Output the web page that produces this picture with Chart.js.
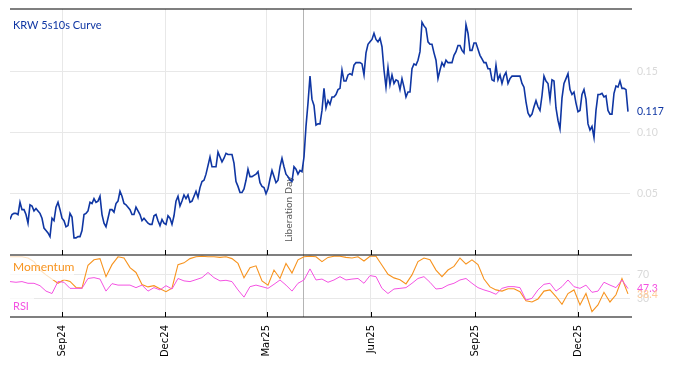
<!DOCTYPE html>
<html>
<head>
<meta charset="utf-8">
<script src="https://cdn.jsdelivr.net/npm/chart.js@4.4.1/dist/chart.umd.min.js"></script>
<style>
  html, body { margin: 0; padding: 0; background: #fff; }
  #wrap { width: 674px; height: 366px; }
</style>
</head>
<body>
<div id="wrap"><canvas id="myChart" width="674" height="366"></canvas></div>
<script>
// sampling grid: days after 17 Jul 2024
const startDate = Date.UTC(2024, 6, 17);
const curveStepDays = 1.7677;
const oscStepDays = 5.303;

// KRW 5s10s curve (%)
const curve = [
  0.029,0.033,0.034,0.034,0.033,0.043,0.037,0.037,0.033,0.026,
  0.041,0.040,0.036,0.038,0.036,0.034,0.030,0.022,0.020,0.018,
  0.015,0.030,0.028,0.039,0.043,0.037,0.030,0.028,0.023,0.024,
  0.034,0.031,0.014,0.014,0.015,0.015,0.020,0.033,0.034,0.036,
  0.043,0.042,0.046,0.043,0.044,0.048,0.033,0.026,0.023,0.030,
  0.037,0.037,0.035,0.042,0.044,0.052,0.048,0.042,0.041,0.039,
  0.037,0.033,0.033,0.039,0.036,0.033,0.028,0.030,0.028,0.026,
  0.025,0.025,0.032,0.033,0.028,0.024,0.029,0.026,0.025,0.032,
  0.030,0.025,0.032,0.044,0.048,0.040,0.044,0.049,0.046,0.049,
  0.043,0.044,0.048,0.052,0.047,0.055,0.060,0.061,0.066,0.073,
  0.080,0.072,0.072,0.072,
  0.084,0.080,0.076,0.079,0.083,0.082,0.082,0.082,0.075,0.060,
  0.056,0.051,0.051,0.054,0.061,0.070,0.064,0.064,0.065,0.066,
  0.068,0.059,0.056,0.055,0.050,0.054,0.062,0.069,0.064,0.059,
  0.061,0.072,0.079,0.072,0.066,0.064,0.061,0.060,0.072,0.070,
  0.066,0.069,0.068,0.080,0.105,0.124,0.146,0.127,0.122,0.106,
  0.107,0.107,0.118,0.136,0.120,0.126,0.123,0.129,0.129,0.131,
  0.135,0.136,0.151,0.142,0.142,0.147,0.148,0.147,0.155,0.157,
  0.157,0.157,0.156,0.147,0.165,0.172,0.174,0.176,0.181,0.176,
  0.174,0.177,0.170,0.151,0.137,0.153,0.139,0.147,0.140,0.143,
  0.142,0.135,0.144,0.137,0.129,0.133,0.133,0.152,0.156,0.155,
  0.159,
  0.166,0.190,0.187,0.185,0.174,0.172,0.172,0.165,0.159,0.144,
  0.151,0.157,0.154,0.159,0.157,0.157,0.157,0.163,0.166,0.171,
  0.171,0.167,0.165,0.188,0.181,0.167,0.167,0.173,0.173,0.168,
  0.163,0.160,0.157,0.157,0.152,0.152,0.143,0.142,0.155,0.143,
  0.147,0.140,0.146,0.149,0.140,0.144,0.146,0.146,0.146,0.146,
  0.146,0.140,0.137,0.125,0.116,0.113,0.115,0.121,0.126,0.121,
  0.118,0.130,0.146,0.142,0.140,0.127,0.143,0.142,0.120,0.110,
  0.103,0.128,0.140,0.144,0.148,0.135,0.131,0.133,0.124,0.117,
  0.118,0.131,0.135,0.127,0.107,0.102,0.105,0.096,0.118,0.131,
  0.131,0.132,0.129,0.130,0.118,0.115,0.115,0.132,0.138,0.137,
  0.142,0.136,0.136,0.135,0.117
];

const momentum = [
  100,100,100,98,92,78,70,63,56,62,
  59,49,48,86,95,97,67,87,100,98,
  82,74,54,50,52,47,42,48,87,90,
  97,100,101,100,100,99,100,97,89,65,
  82,85,60,53,78,64,89,73,95,100,
  101,100,92,
  99,101,101,99,98,100,93,101,101,86,
  71,65,62,55,70,92,98,95,78,67,
  78,84,98,88,95,87,63,50,45,43,
  47,47,42,27,25,30,43,45,34,21,
  39,45,20,39,9,20,41,25,37,64,
  38.4
];

const rsi = [
  58.8,57.7,58.8,56,56,52,43,39,59,57.7,
  47.6,47.6,47.6,64,65.4,63,43,55.4,53,53,
  53,48.8,53,43,48.8,45,52,46.5,64,60,
  58.8,62,65.4,74,65.4,60,61,58.8,45,33,
  50.4,53,50.4,47.6,54.3,61.5,53,43,56,61.5,
  79.9,61.5,63,
  57.7,61.5,67,61.5,63,64,56,68.8,67,47.6,
  39,46.5,47.6,48.8,56,64,67,57.7,46.5,47.6,
  53,56,61.5,64,56,48.8,45,42,37.7,47.6,
  50.4,50.4,48.8,28.2,31,45,54.3,56,43,50.4,
  61.5,50.4,47.6,53,41,43,57.7,53,48.8,61.5,
  47.3
];

const tickDates = ['2024-09-01','2024-12-01','2025-03-01','2025-06-01','2025-09-01','2025-12-01'];
const tickLabels = ['Sep24','Dec24','Mar25','Jun25','Sep25','Dec25'];
const curveTicks = [0.05, 0.10, 0.15];
const oscTicks = [30, 70];
const eventDate = '2025-04-02';
const eventLabel = 'Liberation Day';

function dayOf(s) { return (Date.parse(s) - startDate) / 86400000; }
const tickDays = tickDates.map(dayOf);

const blue = '#0f36a3';
const orange = '#f7931e';
const pink = '#f452e2';
const labelFont = 'Lato, "Open Sans", sans-serif';

const overlay = {
  id: 'overlay',
  beforeDatasetsDraw(chart) {
    const {ctx, chartArea, scales} = chart;
    const lx = Math.round(scales.x.getPixelForValue(dayOf(eventDate))) + 0.5;
    ctx.save();
    ctx.strokeStyle = '#b4b4b4';
    ctx.lineWidth = 1;
    ctx.beginPath();
    ctx.moveTo(lx, chartArea.top);
    ctx.lineTo(lx, chartArea.bottom);
    ctx.stroke();
    ctx.translate(lx - 13.5, scales.y.bottom - 13);
    ctx.rotate(-Math.PI / 2);
    ctx.font = '9px "DejaVu Sans"';
    ctx.fillStyle = '#555';
    ctx.textAlign = 'left';
    ctx.textBaseline = 'middle';
    ctx.fillText(eventLabel, 0, 0);
    ctx.restore();
  },
  afterDatasetDraw(chart, args) {
    if (args.index !== 2) return;
    const {ctx, chartArea, scales} = chart;
    ctx.save();
    ctx.fillStyle = 'rgba(255,255,255,0.72)';
    ctx.fillRect(chartArea.left, scales.y2.top + 1, 64, 24);
    ctx.fillRect(chartArea.left, scales.y2.getPixelForValue(30) - 2, 24, 18);
    ctx.restore();
  },
  afterDraw(chart) {
    const {ctx, chartArea, scales} = chart;
    const x = scales.x, y = scales.y, y2 = scales.y2;
    ctx.save();
    // frame lines
    ctx.strokeStyle = '#000';
    ctx.lineWidth = 1.2;
    [chartArea.top, y2.top, chartArea.bottom].forEach(py => {
      ctx.beginPath();
      ctx.moveTo(chartArea.left, py);
      ctx.lineTo(chartArea.right + 2, py);
      ctx.stroke();
    });
    // inward ticks
    ctx.lineWidth = 1;
    tickDays.forEach(d => {
      const px = Math.round(x.getPixelForValue(d)) + 0.5;
      [y2.top, chartArea.bottom].forEach(py => {
        ctx.beginPath();
        ctx.moveTo(px, py);
        ctx.lineTo(px, py - 5);
        ctx.stroke();
      });
    });
    // series names
    ctx.textAlign = 'left';
    ctx.textBaseline = 'middle';
    ctx.font = '11px ' + labelFont;
    ctx.fillStyle = blue;
    ctx.fillText('KRW 5s10s Curve', 13, 25.5);
    ctx.font = '12px ' + labelFont;
    ctx.fillStyle = orange;
    ctx.fillText('Momentum', 13, 267.5);
    ctx.font = '11px ' + labelFont;
    ctx.fillStyle = pink;
    ctx.fillText('RSI', 13, 306);
    // last values
    const lx = chartArea.right + 7;
    ctx.font = '10.5px ' + labelFont;
    ctx.fillStyle = blue;
    ctx.fillText(curve[curve.length - 1].toFixed(3), lx, y.getPixelForValue(curve[curve.length - 1]));
    ctx.fillStyle = pink;
    ctx.fillText(rsi[rsi.length - 1].toFixed(1), lx, y2.getPixelForValue(rsi[rsi.length - 1]));
    ctx.fillStyle = '#ffcb99';
    ctx.fillText(momentum[momentum.length - 1].toFixed(1), lx, y2.getPixelForValue(momentum[momentum.length - 1]) + 1);
    ctx.restore();
  }
};

const grid = { color: '#e8e8e8', lineWidth: 1, drawTicks: false };

function noPad(s) { s.paddingTop = 0; s.paddingBottom = 0; }

new Chart(document.getElementById('myChart'), {
  type: 'line',
  data: {
    datasets: [
      { label: 'KRW 5s10s Curve', data: curve.map((v, i) => ({ x: i * curveStepDays, y: v })),
        yAxisID: 'y', borderColor: blue, borderWidth: 1.6, pointRadius: 0, tension: 0 },
      { label: 'RSI', data: rsi.map((v, i) => ({ x: i * oscStepDays, y: v })),
        yAxisID: 'y2', borderColor: pink, borderWidth: 1, pointRadius: 0, tension: 0 },
      { label: 'Momentum', data: momentum.map((v, i) => ({ x: i * oscStepDays, y: v })),
        yAxisID: 'y2', borderColor: orange, borderWidth: 1.1, pointRadius: 0, tension: 0 }
    ]
  },
  options: {
    responsive: false,
    animation: false,
    layout: { padding: { left: 10, top: 9, right: 0, bottom: 0 } },
    plugins: { legend: { display: false }, tooltip: { enabled: false } },
    scales: {
      x: {
        type: 'linear', min: 0, max: 548,
        afterBuildTicks: s => { s.ticks = tickDays.map(v => ({ value: v })); },
        afterFit: s => { s.height = 49; s.paddingLeft = 0; s.paddingRight = 0; },
        grid: grid,
        border: { display: false },
        ticks: {
          autoSkip: false, minRotation: 90, maxRotation: 90, padding: 8,
          color: '#000', font: { family: 'DejaVu Sans', size: 10 },
          callback: (v, i) => tickLabels[i]
        }
      },
      y: {
        position: 'right', stack: 'panels', stackWeight: 246,
        min: 0, max: 0.2008,
        afterBuildTicks: s => { s.ticks = curveTicks.map(v => ({ value: v })); },
        afterFit: s => { s.width = 44; noPad(s); },
        grid: grid,
        border: { display: false },
        ticks: { padding: 7, color: '#d9d9d9', font: { family: labelFont, size: 10.5 },
          callback: v => v.toFixed(2) }
      },
      y2: {
        position: 'right', stack: 'panels', stackWeight: 62,
        min: 0, max: 103,
        afterBuildTicks: s => { s.ticks = oscTicks.map(v => ({ value: v })); },
        afterFit: s => { s.width = 44; noPad(s); },
        grid: grid,
        border: { display: false },
        ticks: { padding: 7, color: '#d9d9d9', font: { family: labelFont, size: 10.5 } }
      }
    }
  },
  plugins: [overlay]
});
</script>
</body>
</html>
